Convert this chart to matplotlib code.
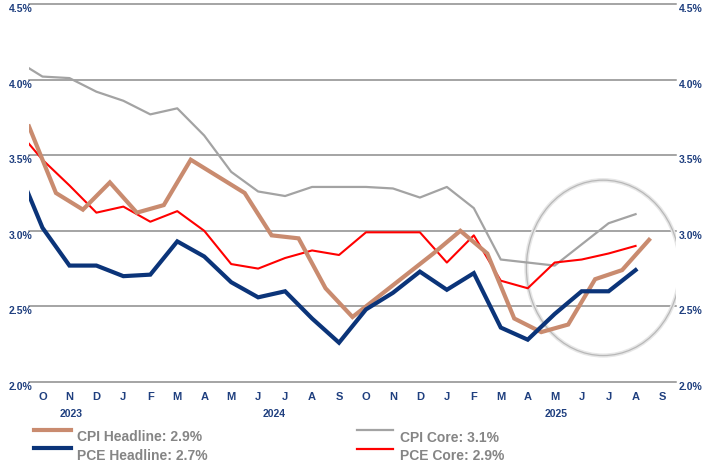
import numpy as np
import matplotlib
matplotlib.use("Agg")
from matplotlib import pyplot as plt
from matplotlib.patches import Ellipse
from matplotlib.lines import Line2D

plt.rcParams['font.family'] = ['Liberation Sans Narrow', 'Liberation Sans', 'DejaVu Sans']

# Sep 2023 .. Aug 2025 (monthly, y/y %)
months = np.arange(24)
cpi_headline = [3.69, 3.25, 3.14, 3.32, 3.12, 3.17, 3.47, 3.36, 3.25, 2.97, 2.95, 2.62,
                2.43, 2.57, 2.71, 2.85, 3.00, 2.85, 2.42, 2.33, 2.38, 2.68, 2.74, 2.94]
pce_headline = [3.45, 3.02, 2.77, 2.77, 2.70, 2.71, 2.93, 2.83, 2.66, 2.56, 2.60, 2.42,
                2.26, 2.48, 2.59, 2.73, 2.61, 2.72, 2.36, 2.28, 2.45, 2.60, 2.60, 2.74]
cpi_core = [4.13, 4.02, 4.01, 3.92, 3.86, 3.77, 3.81, 3.63, 3.39, 3.26, 3.23, 3.29,
            3.29, 3.29, 3.28, 3.22, 3.29, 3.15, 2.81, 2.79, 2.77, 2.91, 3.05, 3.11]
pce_core = [3.68, 3.47, 3.30, 3.12, 3.16, 3.06, 3.13, 3.00, 2.78, 2.75, 2.82, 2.87,
            2.84, 2.99, 2.99, 2.99, 2.79, 2.97, 2.67, 2.62, 2.79, 2.81, 2.85, 2.90]

month_labels = list("ONDJFMAMJJASONDJFMAMJJAS")
years = ["2023", "2024", "2025"]
year_pos = [2.05, 9.6, 20.07]
legend_labels = ["CPI Headline: 2.9%", "PCE Headline: 2.7%", "CPI Core: 3.1%", "PCE Core: 2.9%"]

c_tan = "#C98B6F"
c_navy = "#0B3479"
c_grey = "#A3A3A3"
c_red = "#FF0000"
c_lab = "#1F3F7F"
c_leg = "#858585"

fig = plt.figure(figsize=(7.04, 4.65), dpi=100)
ax = fig.add_axes([29/704, 1-382/465, 647/704, 378/465])

ax.plot(months, cpi_core, color=c_grey, lw=1.6, zorder=3)
ax.plot(months, pce_core, color=c_red, lw=1.5, zorder=4)
ax.plot(months + 0.5, cpi_headline, color=c_tan, lw=3.0, zorder=5, solid_joinstyle='miter')
ax.plot(months, pce_headline, color=c_navy, lw=3.0, zorder=6, solid_joinstyle='miter')

ax.add_patch(Ellipse((21.8, 2.755), 5.7, 1.16, fill=False, edgecolor="#E6E6E6", lw=3.0, zorder=2))
ax.add_patch(Ellipse((21.8, 2.755), 5.7, 1.16, fill=False, edgecolor="#B8B8B8", lw=0.9, zorder=2))

ax.set_xlim(0.5, 24.5)
ax.set_ylim(2.0, 4.5)
for s in ax.spines.values():
    s.set_visible(False)

yt = np.arange(2.0, 4.51, 0.5)
ax.set_yticks(yt)
ax.set_yticklabels([f"{v:.1f}%" for v in yt])
ax.grid(axis='y', color="#8C8C8C", lw=1.1)
for gl in ax.get_ygridlines():
    gl.set_clip_on(False)
ax.set_axisbelow(True)
ax.tick_params(axis='y', length=0, pad=-2.5, labelsize=7.5, labelcolor=c_lab)
for lab in ax.get_yticklabels():
    lab.set_fontweight('bold')
    lab.set_va('top')

ax2 = ax.twinx()
ax2.set_ylim(2.0, 4.5)
ax2.set_yticks(yt)
ax2.set_yticklabels([f"{v:.1f}%" for v in yt])
ax2.tick_params(axis='y', length=0, pad=2, labelsize=7.5, labelcolor=c_lab)
for lab in ax2.get_yticklabels():
    lab.set_fontweight('bold')
    lab.set_va('top')
for s in ax2.spines.values():
    s.set_visible(False)

ax.set_xticks(np.arange(1, 25))
ax.set_xticklabels(month_labels)
ax.tick_params(axis='x', length=0, pad=7, labelsize=8, labelcolor=c_lab)
for lab in ax.get_xticklabels():
    lab.set_fontweight('bold')

for y, xp in zip(years, year_pos):
    ax.text(xp, -(414-382)/378, y, transform=ax.get_xaxis_transform(), ha='center', va='center',
            fontsize=7.5, fontweight='bold', color=c_lab)

# legend drawn by hand: line samples sit above the text rows
H = 465.0
leg_items = [(34, 71, 430, 77, 437, c_tan, 3.0, legend_labels[0]),
             (34, 71, 448, 77, 456, c_navy, 3.0, legend_labels[1]),
             (357, 393, 430, 400, 438, c_grey, 1.6, legend_labels[2]),
             (357, 393, 449, 400, 456, c_red, 1.6, legend_labels[3])]
for x0, x1, ly, tx, ty, col, lw, txt in leg_items:
    fig.add_artist(Line2D([x0/704, x1/704], [1-ly/H, 1-ly/H], color=col, lw=lw, transform=fig.transFigure))
    fig.text(tx/704, 1-ty/H, txt, ha='left', va='center', fontsize=10, color=c_leg, fontweight='bold')

fig.savefig("out.png", dpi=100)
